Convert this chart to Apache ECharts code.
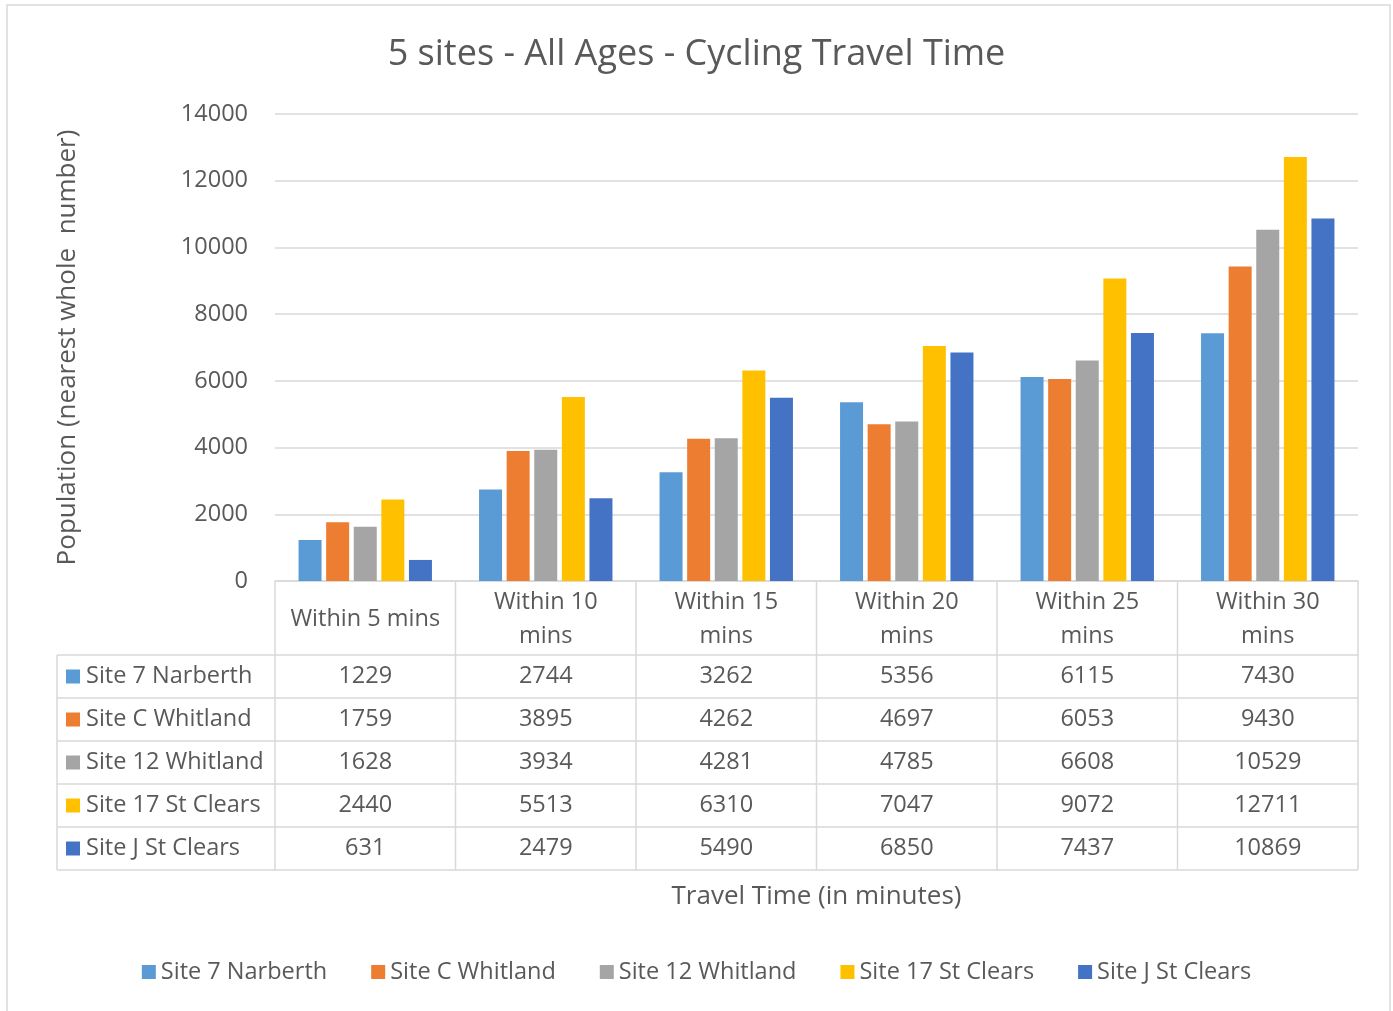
<!DOCTYPE html>
<html><head><meta charset="utf-8">
<script src="https://cdn.jsdelivr.net/npm/echarts@6/dist/echarts.min.js"></script>
<style>html,body{margin:0;padding:0;background:#fff}#c{width:1393px;height:1011px}</style>
</head><body><div id="c"></div>
<script>
const categories = ['Within 5 mins','Within 10 mins','Within 15 mins','Within 20 mins','Within 25 mins','Within 30 mins'];
const seriesNames = ['Site 7 Narberth','Site C Whitland','Site 12 Whitland','Site 17 St Clears','Site J St Clears'];
const site7Narberth = [1229,2744,3262,5356,6115,7430];
const siteCWhitland = [1759,3895,4262,4697,6053,9430];
const site12Whitland = [1628,3934,4281,4785,6608,10529];
const site17StClears = [2440,5513,6310,7047,9072,12711];
const siteJStClears = [631,2479,5490,6850,7437,10869];
const seriesValues = [site7Narberth, siteCWhitland, site12Whitland, site17StClears, siteJStClears];
const colors = ['#5B9BD5','#ED7D31','#A5A5A5','#FFC000','#4472C4'];
const titleText = '5 sites - All Ages - Cycling Travel Time';
const yAxisTitle = 'Population (nearest whole  number)';
const xAxisTitle = 'Travel Time (in minutes)';

const FONT = '"Open Sans", Lato, sans-serif';
const TXT = '#595959';
const GRIDC = '#D9D9D9';
const FS = 23.5;

const chart = echarts.init(document.getElementById('c'), null, {renderer:'canvas'});
const option = {
  animation:false,
  color: colors,
  textStyle:{fontFamily:FONT},
  title:{text:titleText,left:'center',top:32,textStyle:{fontFamily:FONT,fontSize:36,fontWeight:'normal',color:TXT}},
  grid:{left:275,right:35,top:114,bottom:430,containLabel:false},
  legend:{bottom:22,left:'center',itemWidth:14,itemHeight:14,itemGap:44,icon:'rect',
    textStyle:{fontFamily:FONT,fontSize:FS,color:TXT},data:seriesNames},
  xAxis:{type:'category',data:categories,
    axisLine:{show:true,lineStyle:{color:GRIDC,width:1.5}},axisTick:{show:false},
    axisLabel:{interval:0,hideOverlap:false,fontFamily:FONT,fontSize:FS,color:TXT,lineHeight:34,verticalAlign:'middle',margin:38,
      formatter:v=>v.length>13?v.replace(/ (\S+)$/,'\n$1'):v},
    name:xAxisTitle,nameLocation:'middle',nameGap:303,
    nameTextStyle:{fontFamily:FONT,fontSize:26,color:TXT}},
  yAxis:{type:'value',min:0,max:14000,interval:2000,
    axisLine:{show:false},axisTick:{show:false},
    splitLine:{lineStyle:{color:GRIDC,width:1.5}},
    axisLabel:{fontFamily:FONT,fontSize:FS,color:TXT,margin:27,formatter:v=>String(v)},
    name:yAxisTitle,nameLocation:'middle',nameGap:194,
    nameTextStyle:{fontFamily:FONT,fontSize:26,color:TXT}},
  series: seriesNames.map((n,i)=>({name:n,type:'bar',data:seriesValues[i],barWidth:23,barGap:'20%'}))
};
chart.setOption(option);

// data table built from the same arrays, positioned from the axes
const c0 = chart.convertToPixel({xAxisIndex:0}, 0);
const c1 = chart.convertToPixel({xAxisIndex:0}, 1);
const band = c1 - c0;
const left = c0 - band/2;
const right = left + band*categories.length;
const y0 = chart.convertToPixel({yAxisIndex:0}, 0);
const headerH = 74, rowH = 43, tableLeft = 57;
const rowsTop = y0 + headerH;
const tableBottom = rowsTop + rowH*seriesNames.length;
const els = [];
const line = (x1,y1,x2,y2)=>els.push({type:'line',shape:{x1,y1,x2,y2},style:{stroke:GRIDC,lineWidth:1.5},silent:true});
for(let k=0;k<=categories.length;k++){ const x=left+band*k; line(x,y0,x,tableBottom); }
line(tableLeft,rowsTop,tableLeft,tableBottom);
for(let r=0;r<=seriesNames.length;r++){ const y=rowsTop+rowH*r; line(tableLeft,y,right,y); }
seriesNames.forEach((n,r)=>{
  const cy = rowsTop + rowH*r + rowH/2;
  els.push({type:'rect',shape:{x:66,y:cy-7,width:14,height:14},style:{fill:colors[r]},silent:true});
  els.push({type:'text',x:86,y:cy,style:{text:n,fontFamily:FONT,fontSize:FS,fill:TXT,textVerticalAlign:'middle',textAlign:'left'},silent:true});
  seriesValues[r].forEach((v,k)=>{
    els.push({type:'text',x:left+band*k+band/2,y:cy,style:{text:String(v),fontFamily:FONT,fontSize:FS,fill:TXT,textAlign:'center',textVerticalAlign:'middle'},silent:true});
  });
});
els.push({type:'rect',shape:{x:7,y:5,width:1383,height:1010},style:{fill:'none',stroke:GRIDC,lineWidth:1.5},silent:true});
chart.setOption({graphic:{elements:els}});
</script></body></html>
